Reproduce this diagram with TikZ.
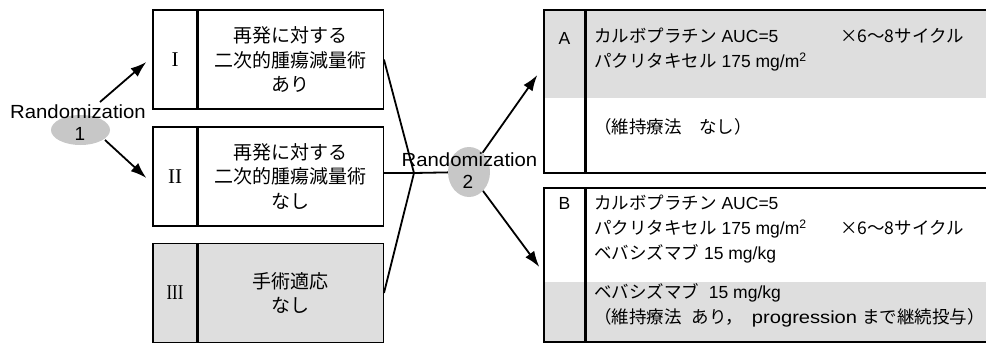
\documentclass[tikz,border=0pt]{standalone}
\usepackage{fontspec}
\setmainfont{Liberation Sans}
\newfontfamily\jpf{Noto Sans CJK JP}
\newfontfamily\romf{Liberation Serif}
\usetikzlibrary{arrows.meta,shapes.geometric}
\newcommand\jp[1]{{\jpf #1}}
\newcommand\randtxt{\scalebox{1.07}[1]{Randomization}}
\definecolor{boxgray}{gray}{0.87}
\definecolor{ellgray}{gray}{0.78}
\begin{document}
\begin{tikzpicture}[x=1pt,y=-1pt,
  cell/.style={draw,line width=1.3pt,inner sep=0pt},
  numcell/.style={cell,minimum width=44pt,minimum height=99pt,font=\romf\fontsize{21}{21}\selectfont},
  txtcell/.style={cell,minimum width=185pt,minimum height=99pt,align=center,font=\jpf\fontsize{19}{24.5}\selectfont},
  lblcell/.style={cell,minimum width=41pt,font=\fontsize{17.5}{17.5}\selectfont},
  rtcell/.style={cell,minimum width=410pt},
  rtext/.style={anchor=west,inner sep=0pt,align=left,font=\fontsize{17.5}{25}\selectfont},
  rand/.style={inner sep=0pt,font=\fontsize{19}{19}\selectfont},
  randell/.style={ellipse,fill=ellgray,inner sep=0pt},
  arr/.style={line width=1.8pt,-{Latex[length=16pt,width=11pt]}},
  conn/.style={line width=1.8pt}
]
\useasboundingbox (0,0) rectangle (986,343);

% gray bands of right boxes
\fill[boxgray] (544,10) rectangle (995,98);
\fill[boxgray] (544,282) rectangle (995,342);

% left boxes
\node[numcell] (n1) at (175,59.5) {I};
\node[txtcell,anchor=west] (t1) at (n1.east) {再発に対する\\二次的腫瘍減量術\\あり};
\node[numcell] (n2) at (175,176.5) {II};
\node[txtcell,anchor=west] (t2) at (n2.east) {再発に対する\\二次的腫瘍減量術\\なし};
\node[numcell,fill=boxgray] (n3) at (175,293) {\scalebox{0.8}[1]{III}};
\node[txtcell,anchor=west,fill=boxgray] (t3) at (n3.east) {手術適応\\なし};

% randomization 1
\node[randell,minimum width=59pt,minimum height=30pt] (e1) at (80.5,130) {};
\node[rand] (r1) at (78,112) {\randtxt};
\node[rand] (r1n) at (80,134) {1};
\coordinate (e1u) at ([shift={(19.5pt,28pt)}]e1.center);
\coordinate (e1d) at ([shift={(24.5pt,-10pt)}]e1.center);
\draw[arr] (e1u) -- ([shift={(-6pt,-2.5pt)}]n1.west);
\draw[arr] (e1d) -- ([shift={(-6pt,-1.5pt)}]n2.west);

% right boxes
\node[lblcell,minimum height=163pt] (aL) at (564.5,91.5) {};
\node[rtcell,minimum height=163pt,anchor=west] (aT) at (aL.east) {};
\node[lblcell,minimum height=154pt] (bL) at (564.5,265) {};
\node[rtcell,minimum height=154pt,anchor=west] (bT) at (bL.east) {};
\node[font=\fontsize{17.5}{17.5}\selectfont] (aLbl) at (564.5,38) {A};
\node[font=\fontsize{17.5}{17.5}\selectfont] (bLbl) at (564.5,203) {B};

\node[rtext] (a1) at (594,49.5) {\makebox[246pt][l]{\jp{カルボプラチン} AUC=5}\jp{×6〜8サイクル}\\
  \jp{パクリタキセル} 175 mg/m\textsuperscript{2}};
\node[rtext] (a2) at (594,127) {\jp{（維持療法　なし）}};
\node[rtext] (b1) at (594,229) {\jp{カルボプラチン} AUC=5\\
  \makebox[246pt][l]{\jp{パクリタキセル} 175 mg/m\textsuperscript{2}}\jp{×6〜8サイクル}\\
  \jp{ベバシズマブ} 15 mg/kg};
\node[rtext] (b2) at (594,305) {\jp{ベバシズマブ}\ \ 15 mg/kg\\
  \jp{（維持療法}\hspace{10pt}\jp{あり，}\hspace{9pt}\scalebox{1.15}[1]{progression}\hspace{5pt}\jp{まで継続投与）}};

% randomization 2
\coordinate (J) at (414,173);
\draw[conn] (t1.east) -- (J);
\draw[conn] (t2.east |- J) -- (J);
\draw[conn] (t3.east) -- (J);
\node[randell,minimum width=42pt,minimum height=50pt] (e2) at (469,172) {};
\draw[conn] (J) -- (e2);
\node[rand] (r2) at (469.5,160) {\randtxt};
\node[rand] (r2n) at (468,182) {2};
\draw[arr] (e2) -- ([shift={(-6pt,16.5pt)}]aL.west);
\draw[arr] (e2) -- ([shift={(-4pt,-2pt)}]bL.west);
\end{tikzpicture}
\end{document}
